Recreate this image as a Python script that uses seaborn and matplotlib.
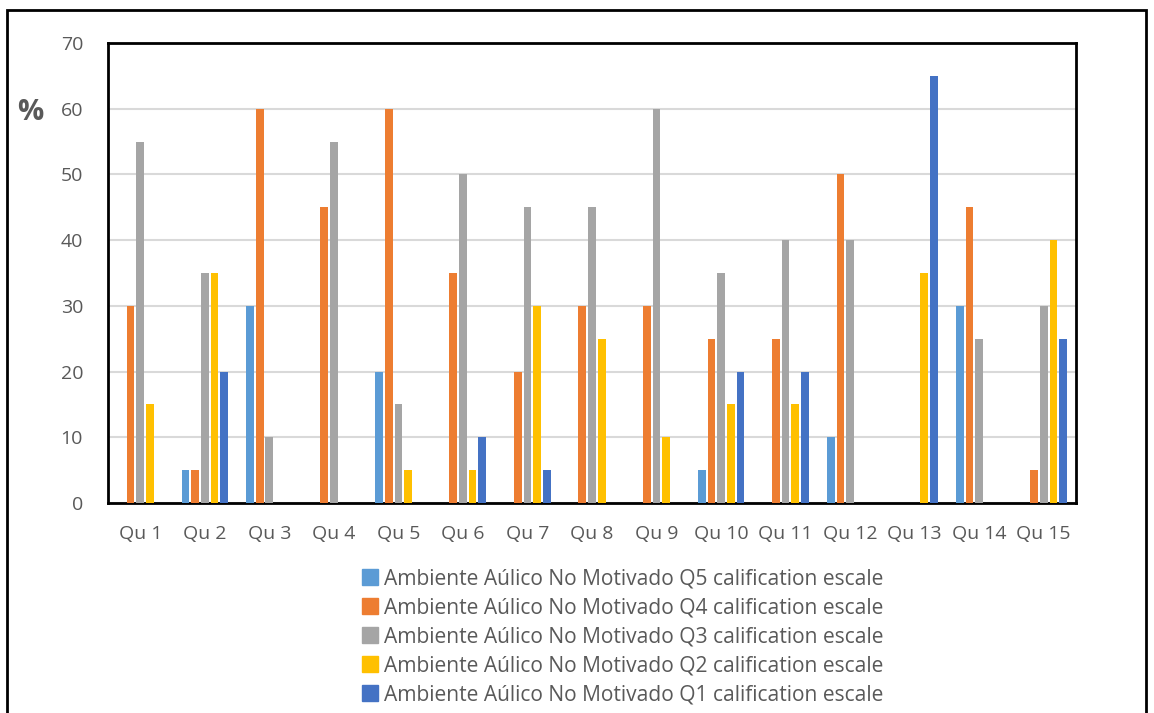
import seaborn as sns
import pandas as pd
import matplotlib.pyplot as plt
import matplotlib.patches as mpatches

categories = ["Qu %d" % i for i in range(1, 16)]
q5 = [0, 5, 30, 0, 20, 0, 0, 0, 0, 5, 0, 10, 0, 30, 0]
q4 = [30, 5, 60, 45, 60, 35, 20, 30, 30, 25, 25, 50, 0, 45, 5]
q3 = [55, 35, 10, 55, 15, 50, 45, 45, 60, 35, 40, 40, 0, 25, 30]
q2 = [15, 35, 0, 0, 5, 5, 30, 25, 10, 15, 15, 0, 35, 0, 40]
q1 = [0, 20, 0, 0, 0, 10, 5, 0, 0, 20, 20, 0, 65, 0, 25]

series_names = ["Ambiente Aúlico No Motivado Q%d calification escale" % n for n in (5, 4, 3, 2, 1)]
colors = ["#5B9BD5", "#ED7D31", "#A5A5A5", "#FFC000", "#4472C4"]

rows = []
for name, vals in zip(series_names, [q5, q4, q3, q2, q1]):
    for cat, v in zip(categories, vals):
        rows.append({"cat": cat, "serie": name, "val": v})
df = pd.DataFrame(rows)

sns.set_style("white")
plt.rcParams['font.family'] = ['Open Sans', 'DejaVu Sans']

fig = plt.figure(figsize=(11.54, 7.13), dpi=100)
ax = fig.add_axes([108 / 1154, 1 - 503 / 713, (1076 - 108) / 1154, (503 - 43) / 713])

sns.barplot(data=df, x="cat", y="val", hue="serie", palette=colors, saturation=1,
            width=0.75, gap=0.2, linewidth=0, errorbar=None, ax=ax, legend=False, zorder=3)

ax.set_ylim(0, 70)
ax.set_yticks(range(0, 71, 10))
ax.set_xlim(-0.5, 14.5)
ax.grid(axis="y", color="#D9D9D9", linewidth=1.5, zorder=0)
ax.set_axisbelow(True)
for s in ax.spines.values():
    s.set_color("black")
    s.set_linewidth(2)
ax.tick_params(axis="both", length=0, labelsize=14, colors="#595959")
ax.tick_params(axis="x", pad=16)
ax.tick_params(axis="y", pad=18)
ax.set_xlabel("")
ax.set_ylabel("")

fig.text(30 / 1154, 1 - 112 / 713, "%", fontsize=21, fontweight="bold", color="#595959",
         ha="center", va="center")

handles = [mpatches.Patch(color=c, label=n) for c, n in zip(colors, series_names)]
fig.legend(handles=handles, loc="upper left", bbox_to_anchor=(354 / 1154, 1 - 560 / 713),
           frameon=False, fontsize=15.1, handlelength=0.75, handleheight=0.75,
           handletextpad=0.3, labelspacing=0.38, labelcolor="#595959", borderaxespad=0)

border = mpatches.Rectangle((7 / 1154, -0.05), (1146 - 7) / 1154, 1.05 - 10 / 713,
                            transform=fig.transFigure, fill=False, edgecolor="black",
                            linewidth=2)
fig.patches.append(border)

fig.savefig("out.png", dpi=100)
